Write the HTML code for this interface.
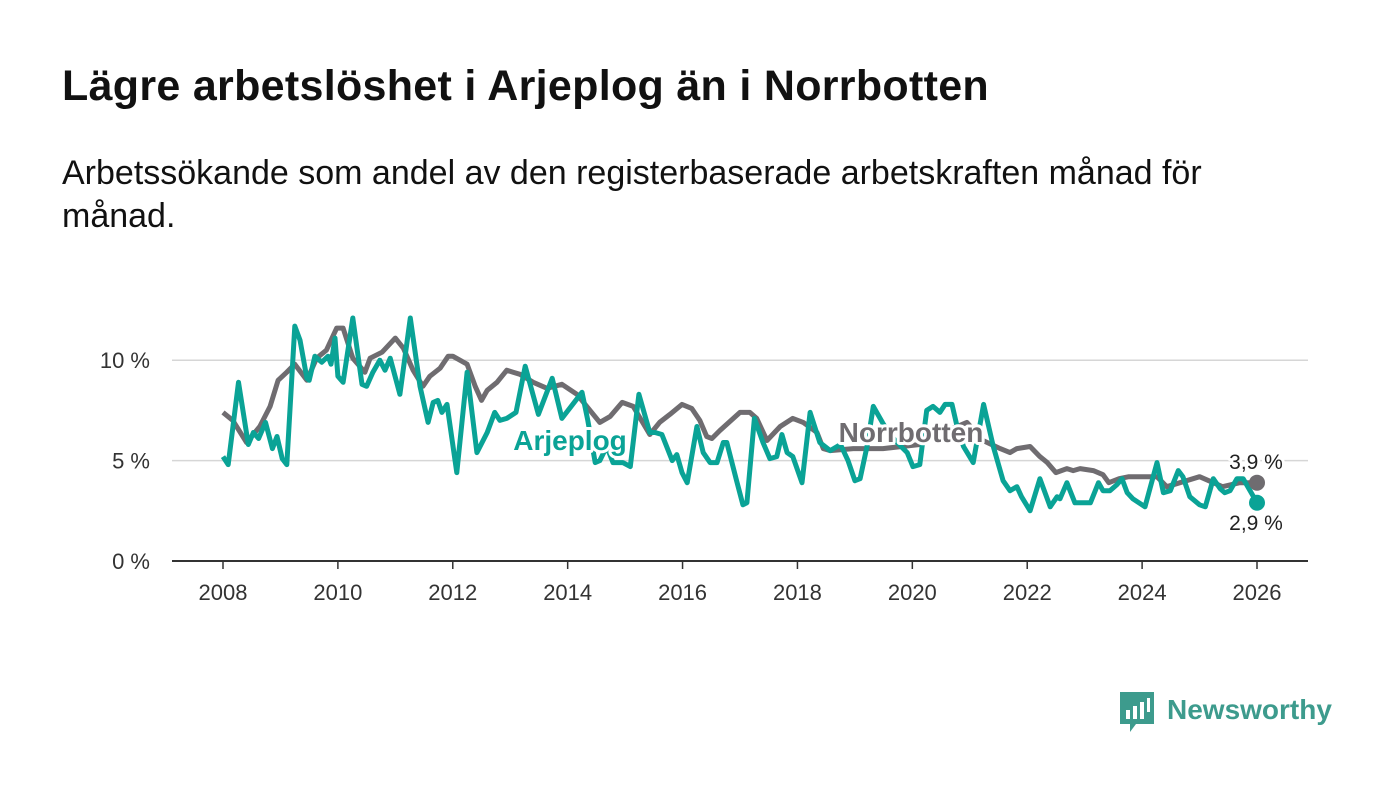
<!DOCTYPE html>
<html><head><meta charset="utf-8"><style>
body{margin:0;background:#fff;}
#wrap{position:relative;width:1400px;height:794px;font-family:"Liberation Sans",sans-serif;overflow:hidden;}
h1{position:absolute;left:62px;top:62px;margin:0;font-size:43px;font-weight:bold;color:#111;letter-spacing:0.3px;}
p.sub{position:absolute;left:62px;top:152px;margin:0;width:1230px;font-size:34px;line-height:43px;color:#111;}
svg{position:absolute;left:0;top:0;}
</style></head><body>
<div id="wrap">
<h1>Lägre arbetslöshet i Arjeplog än i Norrbotten</h1>
<p class="sub">Arbetssökande som andel av den registerbaserade arbetskraften månad för månad.</p>
<svg id="chart" width="1400" height="794"></svg>
</div>
<script>
const xTicks=[2008,2010,2012,2014,2016,2018,2020,2022,2024,2026];
const yTicks=[0,5,10];
const yTickLabels=["0 %","5 %","10 %"];
const norrYears=[2008.0,2008.17,2008.41,2008.64,2008.82,2008.96,2009.11,2009.25,2009.46,2009.63,2009.8,2009.98,2010.09,2010.26,2010.47,2010.56,2010.77,2011.0,2011.14,2011.31,2011.48,2011.6,2011.78,2011.92,2012.0,2012.25,2012.39,2012.5,2012.6,2012.77,2012.94,2013.05,2013.17,2013.4,2013.64,2013.9,2014.16,2014.56,2014.74,2014.95,2015.14,2015.43,2015.6,2015.78,2015.99,2016.16,2016.3,2016.42,2016.51,2016.65,2017.0,2017.17,2017.29,2017.47,2017.7,2017.92,2018.1,2018.34,2018.45,2018.57,2018.97,2019.49,2020.13,2020.53,2020.95,2021.23,2021.53,2021.7,2021.82,2022.05,2022.22,2022.35,2022.5,2022.69,2022.8,2022.92,2023.15,2023.32,2023.42,2023.6,2023.77,2024.26,2024.43,2024.66,2025.0,2025.4,2025.7,2026.0];
const norrVals=[7.4,7.0,5.9,6.7,7.7,9.0,9.4,9.8,9.0,10.1,10.5,11.6,11.6,10.1,9.4,10.1,10.4,11.1,10.6,9.5,8.7,9.2,9.6,10.2,10.2,9.8,8.7,8.0,8.5,8.9,9.5,9.4,9.3,8.9,8.6,8.8,8.3,6.9,7.2,7.9,7.7,6.3,6.9,7.3,7.8,7.6,7.0,6.2,6.1,6.5,7.4,7.4,7.1,6.0,6.7,7.1,6.9,6.4,5.6,5.5,5.6,5.6,5.8,6.4,6.9,6.0,5.6,5.4,5.6,5.7,5.2,4.9,4.4,4.6,4.5,4.6,4.5,4.3,3.9,4.1,4.2,4.2,3.7,3.9,4.2,3.7,3.9,3.9];
const arjYears=[2008.0,2008.09,2008.27,2008.44,2008.53,2008.62,2008.74,2008.86,2008.94,2009.03,2009.11,2009.25,2009.34,2009.46,2009.5,2009.6,2009.72,2009.83,2009.88,2009.95,2010.0,2010.09,2010.26,2010.42,2010.5,2010.61,2010.73,2010.82,2010.91,2011.08,2011.26,2011.43,2011.57,2011.66,2011.74,2011.81,2011.9,2012.07,2012.25,2012.42,2012.6,2012.73,2012.82,2012.94,2013.1,2013.26,2013.49,2013.73,2013.9,2014.25,2014.35,2014.48,2014.56,2014.68,2014.79,2014.96,2015.09,2015.24,2015.43,2015.52,2015.64,2015.82,2015.9,2015.99,2016.08,2016.25,2016.36,2016.48,2016.6,2016.71,2016.77,2016.94,2017.05,2017.12,2017.25,2017.4,2017.52,2017.64,2017.73,2017.82,2017.92,2018.08,2018.22,2018.39,2018.57,2018.75,2018.88,2019.0,2019.09,2019.21,2019.32,2019.5,2019.7,2019.91,2020.01,2020.13,2020.25,2020.36,2020.48,2020.57,2020.69,2020.78,2020.89,2021.06,2021.24,2021.41,2021.58,2021.7,2021.82,2021.9,2022.05,2022.22,2022.4,2022.52,2022.57,2022.69,2022.83,2023.04,2023.1,2023.24,2023.32,2023.44,2023.56,2023.65,2023.74,2023.84,2024.05,2024.26,2024.37,2024.49,2024.63,2024.71,2024.83,2025.0,2025.1,2025.24,2025.36,2025.44,2025.53,2025.65,2025.76,2025.88,2026.0];
const arjVals=[5.2,4.8,8.9,5.8,6.4,6.1,6.9,5.6,6.2,5.1,4.8,11.7,11.0,9.1,9.0,10.2,9.9,10.2,9.8,11.1,9.2,8.9,12.1,8.8,8.7,9.4,10.0,9.5,10.1,8.3,12.1,8.7,6.9,7.9,8.0,7.4,7.8,4.4,9.4,5.4,6.4,7.4,7.0,7.1,7.4,9.7,7.3,9.1,7.1,8.4,7.0,4.9,5.0,5.7,4.9,4.9,4.7,8.3,6.4,6.4,6.3,5.0,5.3,4.4,3.9,6.7,5.4,4.9,4.9,5.9,5.9,4.0,2.8,2.9,7.1,5.9,5.1,5.2,6.3,5.4,5.2,3.9,7.4,5.9,5.5,5.8,5.0,4.0,4.1,5.7,7.7,6.8,6.0,5.4,4.7,4.8,7.5,7.7,7.4,7.8,7.8,6.7,5.7,4.9,7.8,5.7,4.0,3.5,3.7,3.2,2.5,4.1,2.7,3.2,3.1,3.9,2.9,2.9,2.9,3.9,3.5,3.5,3.8,4.1,3.4,3.1,2.7,4.9,3.4,3.5,4.5,4.2,3.2,2.8,2.7,4.1,3.6,3.4,3.5,4.1,4.1,3.5,2.9];

const NS="http://www.w3.org/2000/svg";
const svg=document.getElementById('chart');
const x0=223,x1=1257,yBase=561,yPerPct=20.08;
function X(yr){return x0+(yr-2008)*(x1-x0)/18;}
function Y(v){return yBase-v*yPerPct;}
function mk(tag,attrs,parent){const e=document.createElementNS(NS,tag);for(const k in attrs)e.setAttribute(k,attrs[k]);(parent||svg).appendChild(e);return e;}

yTicks.forEach((t,i)=>{
  const l=mk('line',{x1:172,x2:1308,y1:Y(t),y2:Y(t),stroke:t===0?'#333':'#d6d6d6','stroke-width':t===0?2:1.5});
  
  
  const tx=mk('text',{x:150,y:Y(t)+8,'text-anchor':'end','font-size':22,fill:'#333','font-family':'Liberation Sans, sans-serif'});
  tx.textContent=yTickLabels[i];
  
  
});
xTicks.forEach(t=>{
  const l=mk('line',{x1:X(t),x2:X(t),y1:yBase,y2:yBase+8,stroke:'#333','stroke-width':1.5});
  
  
  const tx=mk('text',{x:X(t),y:600,'text-anchor':'middle','font-size':22,fill:'#333','font-family':'Liberation Sans, sans-serif'});
  tx.textContent=t;
  
  
});
function path(ys,vs){return ys.map((y,i)=>(i?'L':'M')+X(y).toFixed(1)+','+Y(vs[i]).toFixed(1)).join('');}
const pn=mk('path',{d:path(norrYears,norrVals),fill:'none',stroke:'#6f6c70','stroke-width':5,'stroke-linejoin':'round'});


const pa=mk('path',{d:path(arjYears,arjVals),fill:'none',stroke:'#0aa396','stroke-width':5,'stroke-linejoin':'round'});


const dn=mk('circle',{cx:X(norrYears[norrYears.length-1]),cy:Y(norrVals[norrVals.length-1]),r:8,fill:'#6f6c70'});


const da=mk('circle',{cx:X(arjYears[arjYears.length-1]),cy:Y(arjVals[arjVals.length-1]),r:8,fill:'#0aa396'});


function label(txt,x,y,fill,size,weight,name){
  const t=mk('text',{x:x,y:y,'text-anchor':'middle','font-size':size,'font-weight':weight,fill:fill,stroke:'#fff','stroke-width':6,'paint-order':'stroke','stroke-linejoin':'round','font-family':'Liberation Sans, sans-serif'});
  t.textContent=txt;
  
  
}
label('Arjeplog',570,450,'#0aa396',28,'bold','arjeplog-series-label');
label('Norrbotten',911,442,'#6f6c70',28,'bold','norrbotten-series-label');
label(String(norrVals[norrVals.length-1]).replace('.',',')+' %',1256,469,'#222',21,'normal','norrbotten-end-value');
label(String(arjVals[arjVals.length-1]).replace('.',',')+' %',1256,530,'#222',21,'normal','arjeplog-end-value');
const g=mk('g',{});


mk('path',{d:'M1120,692 h34 v32 h-18 l-6,8 v-8 h-10 z',fill:'#3d9b8d'},g);
mk('rect',{x:1126,y:710,width:4,height:9,fill:'#fff'},g);
mk('rect',{x:1133,y:706,width:4,height:13,fill:'#fff'},g);
mk('rect',{x:1140,y:702,width:4,height:17,fill:'#fff'},g);
mk('rect',{x:1147,y:698,width:3,height:14,fill:'#fff'},g);
const lt=mk('text',{x:1167,y:719,'font-size':28,'font-weight':'bold',fill:'#3d9b8d','font-family':'Liberation Sans, sans-serif'},g);
lt.textContent='Newsworthy';
</script>
</body></html>
